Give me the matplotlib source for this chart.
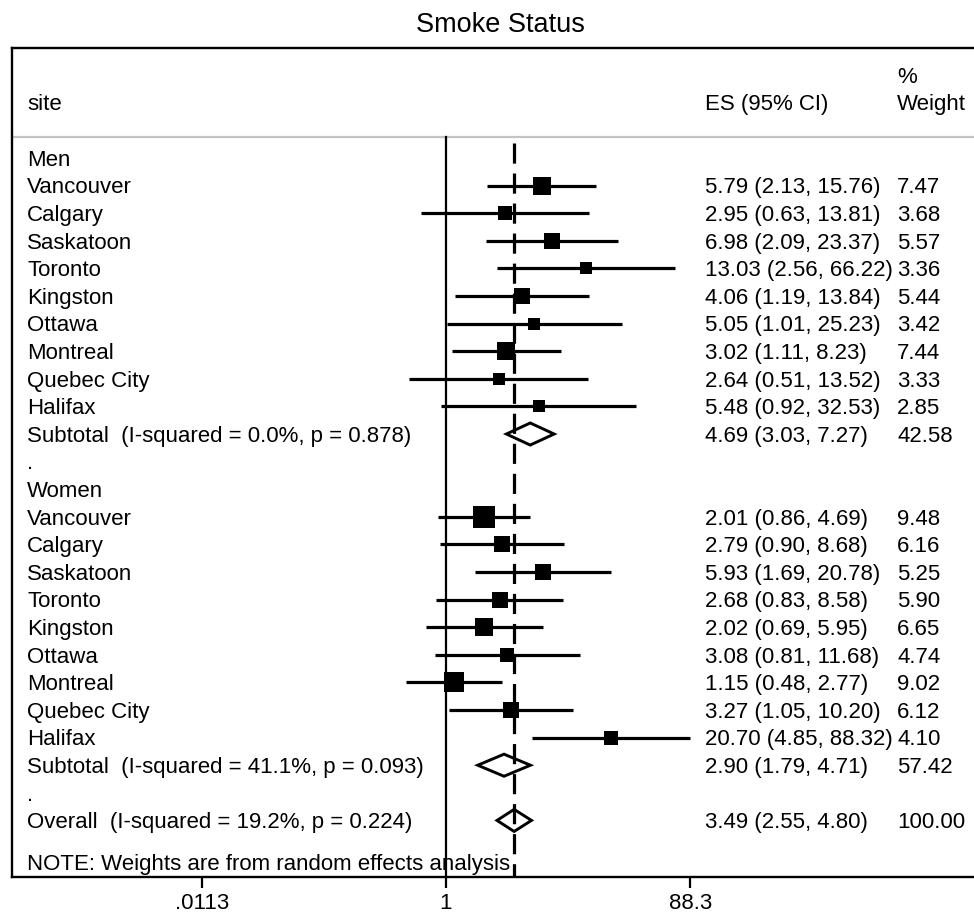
import numpy as np
import matplotlib
matplotlib.use('Agg')
import matplotlib.pyplot as plt
from matplotlib.patches import Polygon
from matplotlib.ticker import NullLocator

plt.rcParams['font.family'] = ['Liberation Sans', 'DejaVu Sans']

# study data
sites = ['Vancouver', 'Calgary', 'Saskatoon', 'Toronto', 'Kingston',
         'Ottawa', 'Montreal', 'Quebec City', 'Halifax']

men_es = [5.79, 2.95, 6.98, 13.03, 4.06, 5.05, 3.02, 2.64, 5.48]
men_lo = [2.13, 0.63, 2.09, 2.56, 1.19, 1.01, 1.11, 0.51, 0.92]
men_hi = [15.76, 13.81, 23.37, 66.22, 13.84, 25.23, 8.23, 13.52, 32.53]
men_wt = [7.47, 3.68, 5.57, 3.36, 5.44, 3.42, 7.44, 3.33, 2.85]

women_es = [2.01, 2.79, 5.93, 2.68, 2.02, 3.08, 1.15, 3.27, 20.70]
women_lo = [0.86, 0.90, 1.69, 0.83, 0.69, 0.81, 0.48, 1.05, 4.85]
women_hi = [4.69, 8.68, 20.78, 8.58, 5.95, 11.68, 2.77, 10.20, 88.32]
women_wt = [9.48, 6.16, 5.25, 5.90, 6.65, 4.74, 9.02, 6.12, 4.10]

# pooled estimates: label, es, lo, hi, weight
sub_labels = ['Subtotal  (I-squared = 0.0%, p = 0.878)',
              'Subtotal  (I-squared = 41.1%, p = 0.093)',
              'Overall  (I-squared = 19.2%, p = 0.224)']
sub_es = [4.69, 2.90, 3.49]
sub_lo = [3.03, 1.79, 2.55]
sub_hi = [7.27, 4.71, 4.80]
sub_wt = [42.58, 57.42, 100.00]

xticks = [0.0113, 1, 88.3]
xtick_labels = ['.0113', '1', '88.3']

fig = plt.figure(figsize=(9.74, 9.15), dpi=100)
ax = fig.add_axes([12/974, 1-877/915, 962/974, 829/915])

ax.set_xscale('log')
ax.set_xlim(np.exp(-7.963), np.exp(9.688))
ax.set_ylim(26.05, -3.986)

tr = ax.get_yaxis_transform()  # x in axes fraction, y in rows
fs = 16
base = 0.28  # baseline offset from row centre

def row_text(y, label, es=None, lo=None, hi=None, wt=None):
    ax.text(0.0156, y + base, label, transform=tr, fontsize=fs, va='baseline')
    if es is not None:
        ax.text(0.7204, y + base, f'{es:.2f} ({lo:.2f}, {hi:.2f})',
                transform=tr, fontsize=fs, va='baseline')
        ax.text(0.92, y + base, f'{wt:.2f}', transform=tr, fontsize=fs, va='baseline')

def study(y, es, lo, hi, wt):
    ax.plot([lo, hi], [y, y], color='black', lw=2.3, zorder=3, solid_capstyle='butt')
    side = 6.84 * np.sqrt(wt) * 0.72  # points
    ax.scatter([es], [y], s=side**2, marker='s', color='black', linewidths=0, zorder=4)

def diamond(y, es, lo, hi):
    h = 0.4
    d = Polygon([(lo, y), (es, y - h), (hi, y), (es, y + h)], closed=True,
                fill=False, edgecolor='black', lw=2.1, zorder=4)
    ax.add_patch(d)

# header
ax.text(0.0156, -1.74, 'site', transform=tr, fontsize=fs, va='baseline')
ax.text(0.7204, -1.74, 'ES (95% CI)', transform=tr, fontsize=fs, va='baseline')
ax.text(0.92, -2.72, '%', transform=tr, fontsize=fs, va='baseline')
ax.text(0.92, -1.74, 'Weight', transform=tr, fontsize=fs, va='baseline')
ax.axhline(-0.76, color='#c4c4c4', lw=1.6, zorder=1)

y = 0
row_text(y, 'Men')
for i in range(len(sites)):
    y += 1
    row_text(y, sites[i], men_es[i], men_lo[i], men_hi[i], men_wt[i])
    study(y, men_es[i], men_lo[i], men_hi[i], men_wt[i])
y += 1
row_text(y, sub_labels[0], sub_es[0], sub_lo[0], sub_hi[0], sub_wt[0])
diamond(y, sub_es[0], sub_lo[0], sub_hi[0])
y += 1
row_text(y, '.')
y += 1
row_text(y, 'Women')
for i in range(len(sites)):
    y += 1
    row_text(y, sites[i], women_es[i], women_lo[i], women_hi[i], women_wt[i])
    study(y, women_es[i], women_lo[i], women_hi[i], women_wt[i])
y += 1
row_text(y, sub_labels[1], sub_es[1], sub_lo[1], sub_hi[1], sub_wt[1])
diamond(y, sub_es[1], sub_lo[1], sub_hi[1])
y += 1
row_text(y, '.')
y += 1
row_text(y, sub_labels[2], sub_es[2], sub_lo[2], sub_hi[2], sub_wt[2])
diamond(y, sub_es[2], sub_lo[2], sub_hi[2])

ax.text(0.0156, 25.8, 'NOTE: Weights are from random effects analysis',
        transform=tr, fontsize=fs, va='baseline')

# reference lines
ax.plot([1, 1], [-0.76, 26.05], color='black', lw=1.6, zorder=2)
ax.plot([sub_es[2], sub_es[2]], [-0.54, 26.05], color='black', lw=2.3,
        linestyle=(0, (6.3, 3.1)), zorder=5)

ax.set_xticks(xticks)
ax.set_xticklabels(xtick_labels, fontsize=fs)
ax.xaxis.set_minor_locator(NullLocator())
ax.tick_params(axis='x', length=8, width=1.6, pad=3.5, direction='out')
ax.set_yticks([])
ax.spines['right'].set_visible(False)
for s in ['left', 'top', 'bottom']:
    ax.spines[s].set_linewidth(1.7)

fig.text(500/974, 1-31.5/915, 'Smoke Status', fontsize=19.5, ha='center', va='baseline')

fig.savefig('out.png', dpi=100)
